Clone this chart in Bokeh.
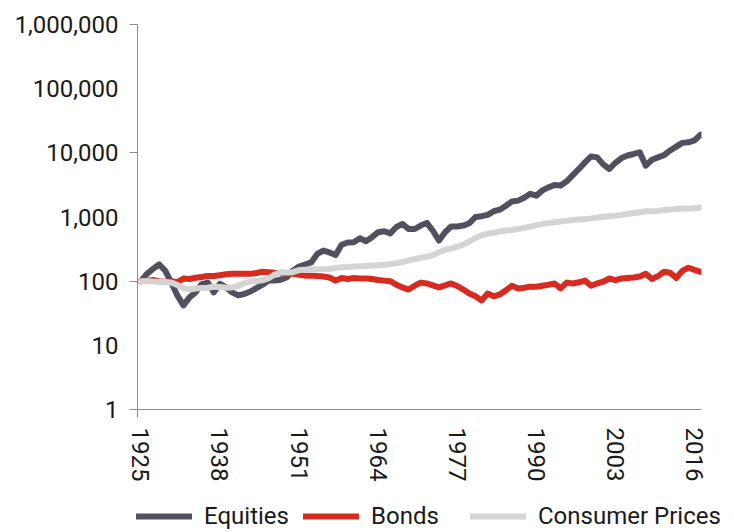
from bokeh.plotting import figure
from bokeh.layouts import column
from bokeh.models import Range1d, FixedTicker, Legend, LegendItem, NumeralTickFormatter
from bokeh.embed import file_html
from bokeh.resources import INLINE

years = list(range(1925, 2018))

equities = [100, 130, 155, 182, 146, 96, 60, 42, 56, 67,
            90, 95, 67, 91, 80, 67, 60, 63, 69, 78,
            88, 102, 102, 105, 115, 146, 169, 182, 196, 266,
            300, 280, 255, 370, 400, 405, 465, 420, 485, 580,
            600, 555, 700, 780, 650, 650, 735, 810, 610, 430,
            580, 710, 710, 735, 800, 1000, 1030, 1080, 1230, 1300,
            1500, 1750, 1800, 2000, 2300, 2150, 2600, 2900, 3150, 3100,
            3600, 4500, 5600, 7100, 8800, 8500, 6600, 5600, 7000, 8300,
            9100, 9600, 10200, 6300, 7800, 8500, 9200, 10900, 12500, 14300,
            14600, 15600, 19200]

bonds = [100, 102, 104, 100, 98, 100, 96, 110, 108, 113,
         116, 120, 120, 124, 128, 130, 130, 130, 130, 134,
         140, 138, 135, 133, 132, 130, 126, 122, 122, 120,
         118, 114, 102, 112, 108, 112, 110, 110, 108, 104,
         102, 100, 88, 80, 74, 85, 95, 92, 86, 80,
         86, 92, 84, 74, 64, 58, 50, 64, 58, 62,
         72, 85, 77, 79, 82, 82, 85, 88, 92, 77,
         95, 92, 96, 102, 85, 92, 98, 110, 104, 110,
         112, 114, 118, 130, 108, 120, 140, 135, 112, 145,
         162, 150, 140]

consumer_prices = [100, 101, 99, 98, 98, 95, 87, 78, 74, 77,
                   78, 79, 82, 81, 79, 80, 84, 93, 99, 101,
                   103, 111, 127, 138, 136, 138, 149, 151, 153, 154,
                   153, 155, 161, 165, 166, 169, 171, 173, 175, 177,
                   180, 185, 191, 199, 210, 222, 231, 239, 254, 282,
                   307, 325, 346, 373, 415, 471, 519, 551, 569, 594,
                   615, 626, 649, 676, 709, 747, 778, 802, 826, 847,
                   871, 897, 917, 931, 952, 984, 1012, 1028, 1051, 1079,
                   1116, 1152, 1185, 1230, 1226, 1246, 1285, 1312, 1331, 1353,
                   1354, 1371, 1401]

x_tick_years = [1925, 1938, 1951, 1964, 1977, 1990, 2003, 2016]
y_tick_values = [1, 10, 100, 1000, 10000, 100000, 1000000]
y_marked_ticks = [1, 100, 10000, 1000000]
series_names = ["Equities", "Bonds", "Consumer Prices"]
series_colors = ["#50505e", "#d72b20", "#d4d4d4"]
series_values = [equities, bonds, consumer_prices]

FONT = "Roboto"
AXIS_COLOR = "#8c8c8c"
TEXT_COLOR = "#1a1a1a"
W = 732
H_MAIN, H_LEG = 495, 37

x_start, x_end = 1924.45, 2017.15

p = figure(width=W, height=H_MAIN, y_axis_type="log",
           x_range=Range1d(x_start, x_end), y_range=Range1d(1, 1000000),
           output_backend="svg", toolbar_location=None,
           min_border_left=137, min_border_right=W - 701,
           min_border_top=24, min_border_bottom=H_MAIN - 409)
p.outline_line_color = None
p.grid.visible = False

for vals, col in zip(series_values, series_colors):
    p.line(years, vals, line_width=6, line_color=col,
           line_cap="round", line_join="round")

# y axis
p.yaxis.ticker = FixedTicker(ticks=y_tick_values, minor_ticks=y_marked_ticks)
p.yaxis.formatter = NumeralTickFormatter(format="0,0")
p.yaxis.axis_line_color = AXIS_COLOR
p.yaxis.major_tick_out = 0
p.yaxis.major_tick_in = 0
p.yaxis.minor_tick_out = 8
p.yaxis.minor_tick_in = 0
p.yaxis.minor_tick_line_color = AXIS_COLOR
p.yaxis.major_label_text_font = FONT
p.yaxis.major_label_text_font_size = "24px"
p.yaxis.major_label_text_color = TEXT_COLOR
p.yaxis.major_label_standoff = 11

# x axis
p.xaxis.ticker = FixedTicker(ticks=x_tick_years, minor_ticks=[x_start])
p.xaxis.axis_line_color = AXIS_COLOR
p.xaxis.major_tick_out = 0
p.xaxis.major_tick_in = 0
p.xaxis.minor_tick_out = 8
p.xaxis.minor_tick_in = 0
p.xaxis.minor_tick_line_color = AXIS_COLOR
p.xaxis.major_label_orientation = "vertical"
p.xaxis.major_label_text_font = FONT
p.xaxis.major_label_text_font_size = "24px"
p.xaxis.major_label_text_color = TEXT_COLOR
p.xaxis.major_label_standoff = 10

# legend strip below the chart (series drawn outside its view, only the key shows)
lg = figure(width=W, height=H_LEG, x_axis_type=None, y_axis_type=None,
            x_range=Range1d(0, 1), y_range=Range1d(0, 1),
            output_backend="svg", toolbar_location=None, min_border=0)
lg.outline_line_color = None
lg.grid.visible = False
if "frame_align" in lg.properties():
    lg.frame_align = False
    p.frame_align = False
keys = [lg.line(years, vals, line_width=6, line_color=c, line_cap="round")
        for vals, c in zip(series_values, series_colors)]
legend = Legend(items=[LegendItem(label=n, renderers=[r]) for n, r in zip(series_names, keys)],
                orientation="horizontal", location=(136, 2),
                glyph_width=56, glyph_height=24, label_height=24,
                label_standoff=12, label_width=99, spacing=0,
                padding=0, margin=0,
                border_line_alpha=0, background_fill_alpha=0,
                label_text_font=FONT, label_text_font_size="24px",
                label_text_color=TEXT_COLOR)
lg.add_layout(legend)

layout = column(p, lg, spacing=0)
open("out.html", "w").write(file_html(layout, INLINE))
